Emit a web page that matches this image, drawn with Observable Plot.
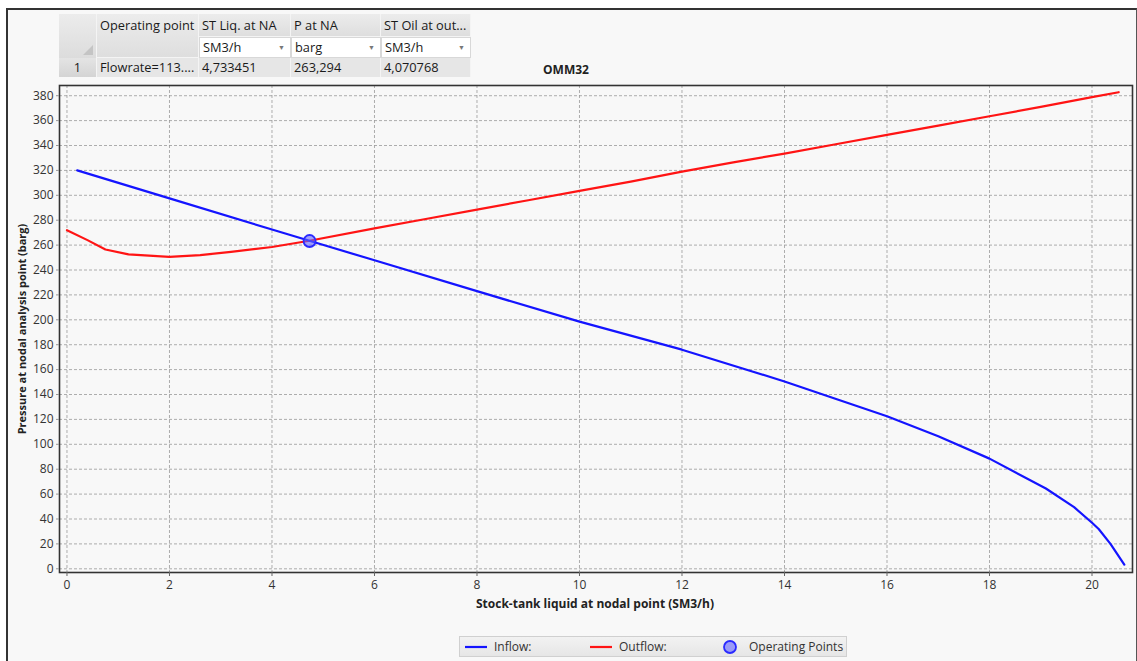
<!DOCTYPE html>
<html>
<head>
<meta charset="utf-8">
<script src="https://cdn.jsdelivr.net/npm/d3@7"></script>
<script src="https://cdn.jsdelivr.net/npm/@observablehq/plot@0.6"></script>
<style>
  html, body { margin: 0; padding: 0; background: #ffffff; }
  #wrap { position: relative; width: 1137px; height: 661px; overflow: hidden; font-family: "Open Sans", sans-serif; color: #222; }
  #inner { position: absolute; left: 6px; top: 8px; right: 0px; bottom: -4px; background: #f8f8f8; border-left: 2px solid #333; border-top: 2px solid #333; border-right: 1px solid #555; }
  #chart { position: absolute; left: 0; top: 0; }
  .cell { position: absolute; box-sizing: border-box; font-size: 12.8px; line-height: 18px; padding: 0 3px; white-space: nowrap; overflow: hidden; color: #1a1a1a; }
  .hdr { background: linear-gradient(#ececec, #dedede); border-right: 1px solid #f4f4f4; border-bottom: 1px solid #f4f4f4; }
  .unit { background: #ffffff; border: 1px solid #d8d8d8; }
  .dat { background: #e6e6e6; border-right: 1px solid #f4f4f4; }
  .idx { background: linear-gradient(#e4e4e4, #d4d4d4); border-right: 1px solid #f4f4f4; text-align: center; }
  .arrow { position: absolute; right: 5px; top: 0; font-size: 7px; color: #777; }
  #title { position: absolute; left: 536px; top: 61px; width: 60px; text-align: center; font-weight: bold; font-size: 12px; }
  #xlabel { position: absolute; left: 395px; top: 595px; width: 400px; text-align: center; font-weight: bold; font-size: 12px; }
  #ylabel { position: absolute; left: 21px; top: 329px; transform: translate(-50%, -50%) rotate(-90deg); font-weight: bold; font-size: 11px; white-space: nowrap; }
  #legend { position: absolute; left: 459px; top: 636px; width: 388px; height: 21px; box-sizing: border-box; background: linear-gradient(#f2f2f2, #e6e6e6); border: 1px solid #d0d0d0; font-size: 12px; }
  .li { position: absolute; top: 0; height: 19px; display: flex; align-items: center; gap: 7px; color: #333; }
</style>
</head>
<body>
<div id="wrap">
  <div id="inner"></div>
  <div id="chart"></div>
  <div id="table"></div>
  <div id="title"></div>
  <div id="xlabel"></div>
  <div id="ylabel"></div>
  <div id="legend"></div>
</div>
<script>
// ---- data ----
const chartTitle = "OMM32";
const xLabel = "Stock-tank liquid at nodal point (SM3/h)";
const yLabel = "Pressure at nodal analysis point (barg)";

const xTicks = [0, 2, 4, 6, 8, 10, 12, 14, 16, 18, 20];
const yTicks = [0, 20, 40, 60, 80, 100, 120, 140, 160, 180, 200, 220, 240, 260, 280, 300, 320, 340, 360, 380];

const inflowX = [0.2, 2, 4, 4.73, 6, 8, 10, 12, 14, 16, 17, 18, 19.1, 19.65, 20, 20.13, 20.36, 20.63];
const inflowY = [320, 297.5, 272.5, 263.5, 247.8, 223, 198.5, 176, 150.5, 122.5, 106.5, 88.5, 64.5, 49.5, 37, 32, 20, 3.4];

const outflowX = [0, 0.4, 0.75, 1.2, 2.0, 2.6, 3.2, 4.0, 4.73, 6, 7, 8, 9, 10, 11, 12, 13, 14, 15, 16, 17, 18, 19, 20, 20.52];
const outflowY = [272, 264, 256.5, 252.5, 250.5, 252, 254.5, 258.5, 263.5, 273.5, 281, 288.5, 296, 303.5, 311, 319, 326.5, 333.5, 341, 348.5, 356, 363.5, 371, 378.8, 382.8];

const opX = [4.733451];
const opY = [263.294];

const tableColumns = ["Operating point", "ST Liq. at NA", "P at NA", "ST Oil at out..."];
const tableUnits = ["", "SM3/h", "barg", "SM3/h"];
const tableIndex = ["1"];
const tableRow = ["Flowrate=113....", "4,733451", "263,294", "4,070768"];

const legendLabels = ["Inflow:", "Outflow:", "Operating Points"];
const legendColors = ["#1414ff", "#ff1414", "#2a2aff"];

// ---- build ----
const inflow = inflowX.map((x, i) => ({x, y: inflowY[i]}));
const outflow = outflowX.map((x, i) => ({x, y: outflowY[i]}));
const op = opX.map((x, i) => ({x, y: opY[i]}));

const chart = Plot.plot({
  width: 1137,
  height: 620,
  marginLeft: 59,
  marginRight: 5,
  marginTop: 85,
  marginBottom: 48,
  style: {background: "transparent", fontFamily: "Open Sans, sans-serif", fontSize: "12px", color: "#333", overflow: "visible"},
  x: {domain: [-0.146, 20.79], label: null},
  y: {domain: [-2.97, 388.2], label: null},
  marks: [
    Plot.frame({fill: "#f8f8f8", stroke: null}),
    Plot.gridX(xTicks, {stroke: "#9a9a9a", strokeOpacity: 0.8, strokeDasharray: "3,2"}),
    Plot.gridY(yTicks, {stroke: "#9a9a9a", strokeOpacity: 0.8, strokeDasharray: "3,2"}),
    Plot.line(outflow, {x: "x", y: "y", stroke: legendColors[1], strokeWidth: 2.2}),
    Plot.line(inflow, {x: "x", y: "y", stroke: legendColors[0], strokeWidth: 2.2}),
    Plot.dot(op, {x: "x", y: "y", r: 6, fill: "rgba(100,100,255,0.6)", stroke: legendColors[2], strokeWidth: 1.8}),
    Plot.frame({stroke: "#333", strokeWidth: 1.6}),
    Plot.axisX(xTicks, {tickSize: 4, tickPadding: 4, stroke: "#666", label: null, tickFormat: d => String(d)}),
    Plot.axisY(yTicks, {tickSize: 5, tickPadding: 1, stroke: "#999", strokeDasharray: "3,2", label: null, tickFormat: d => String(d)})
  ]
});
document.getElementById("chart").appendChild(chart);

// table
const tbl = document.getElementById("table");
const colEdges = [59, 97, 199, 291, 381, 471];
const rowEdges = [14, 37, 58, 77];
function cell(cls, x0, y0, x1, y1, text, extra) {
  const d = document.createElement("div");
  d.className = "cell " + cls;
  d.style.left = x0 + "px"; d.style.top = y0 + "px";
  d.style.width = (x1 - x0) + "px"; d.style.height = (y1 - y0) + "px";
  d.textContent = text;
  if (extra) extra(d);
  tbl.appendChild(d);
  return d;
}
// corner cell with triangle
cell("idx", colEdges[0], rowEdges[0], colEdges[1], rowEdges[2], "", d => {
  d.style.background = "linear-gradient(#ececec, #dcdcdc)";
  const t = document.createElement("div");
  t.style.cssText = "position:absolute;right:3px;bottom:3px;width:0;height:0;border-left:10px solid transparent;border-bottom:10px solid #c4c4c4;";
  d.appendChild(t);
});
// Operating point header spans two rows
cell("hdr", colEdges[1], rowEdges[0], colEdges[2], rowEdges[2], tableColumns[0], d => { d.style.paddingTop = "2px"; });
for (let c = 1; c < tableColumns.length; c++) {
  cell("hdr", colEdges[c + 1], rowEdges[0], colEdges[c + 2], rowEdges[1], tableColumns[c], d => { d.style.paddingTop = "2px"; });
  cell("unit", colEdges[c + 1], rowEdges[1], colEdges[c + 2], rowEdges[2], tableUnits[c], d => {
    d.style.lineHeight = "19px";
    const a = document.createElement("span"); a.className = "arrow"; a.textContent = "▼"; a.style.lineHeight = "19px";
    d.appendChild(a);
  });
}
cell("idx", colEdges[0], rowEdges[2], colEdges[1], rowEdges[3], tableIndex[0], d => { d.style.lineHeight = "19px"; });
for (let c = 0; c < tableRow.length; c++) {
  cell("dat", colEdges[c + 1], rowEdges[2], colEdges[c + 2], rowEdges[3], tableRow[c], d => { d.style.lineHeight = "19px"; });
}

document.getElementById("title").textContent = chartTitle;
document.getElementById("xlabel").textContent = xLabel;
document.getElementById("ylabel").textContent = yLabel;

// legend
const lg = document.getElementById("legend");
const legendPos = [5, 130, 262];
legendLabels.forEach((lab, i) => {
  const it = document.createElement("div");
  it.className = "li";
  it.style.left = legendPos[i] + "px";
  const sw = i < 2
    ? `<svg width="22" height="10"><line x1="0" y1="5" x2="22" y2="5" stroke="${legendColors[i]}" stroke-width="2.2"/></svg>`
    : `<svg width="16" height="16"><circle cx="8" cy="8" r="6" fill="rgba(100,100,255,0.6)" stroke="${legendColors[i]}" stroke-width="1.8"/></svg>`;
  it.innerHTML = sw + `<span>${lab}</span>`;
  if (i === 2) it.style.gap = "11px";
  lg.appendChild(it);
});
</script>
</body>
</html>
